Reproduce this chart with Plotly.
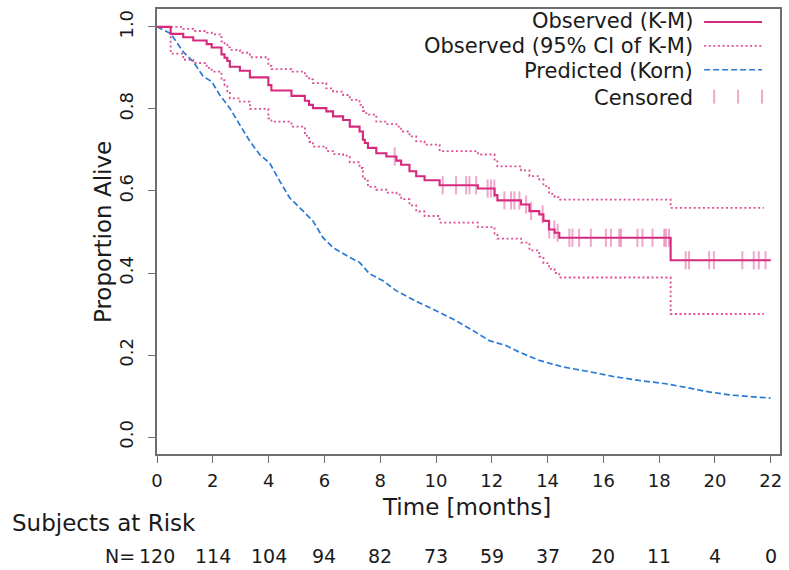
import plotly.graph_objects as go

# ---------------- data ----------------
km_time = [0, 0.49, 0.94, 1.30, 1.78, 1.96, 2.31, 2.42, 2.52, 2.61, 2.97, 3.33, 3.99, 4.10,
           4.82, 5.30, 5.45, 5.59, 6.07, 6.31, 6.67, 6.91, 7.26, 7.38, 7.45, 7.56, 7.86, 8.22,
           8.58, 8.75, 9.05, 9.29, 9.59, 10.13, 11.50, 12.10, 12.20, 13.05, 13.35, 13.70, 13.85,
           14.05, 14.25, 14.42, 18.41, 22.0]
km_surv = [1.000, 0.983, 0.975, 0.967, 0.958, 0.950, 0.933, 0.925, 0.917, 0.903, 0.893, 0.877,
           0.858, 0.845, 0.832, 0.820, 0.810, 0.802, 0.794, 0.782, 0.773, 0.757, 0.745, 0.725,
           0.717, 0.705, 0.692, 0.684, 0.674, 0.664, 0.648, 0.636, 0.626, 0.614, 0.606, 0.590,
           0.577, 0.567, 0.551, 0.543, 0.527, 0.506, 0.498, 0.486, 0.431, 0.431]

ci_time = [0, 0.49, 0.94, 1.30, 1.78, 1.96, 2.31, 2.42, 2.52, 2.61, 2.97, 3.33, 3.99, 4.10,
           4.82, 5.30, 5.45, 5.59, 6.07, 6.31, 6.67, 6.91, 7.26, 7.38, 7.45, 7.56, 7.86, 8.22,
           8.58, 8.75, 9.05, 9.29, 9.59, 10.13, 11.50, 12.10, 12.20, 13.05, 13.35, 13.70, 13.85,
           14.05, 14.25, 14.42, 18.41, 21.75]
ci_upper = [1.000, 1.000, 0.995, 0.990, 0.986, 0.982, 0.965, 0.957, 0.950, 0.944, 0.937, 0.926,
            0.905, 0.897, 0.891, 0.880, 0.872, 0.863, 0.850, 0.842, 0.834, 0.822, 0.810, 0.795,
            0.790, 0.786, 0.769, 0.763, 0.757, 0.745, 0.733, 0.721, 0.713, 0.697, 0.689, 0.672,
            0.660, 0.650, 0.636, 0.628, 0.612, 0.593, 0.585, 0.579, 0.559, 0.559]
ci_lower = [1.000, 0.935, 0.920, 0.912, 0.900, 0.891, 0.870, 0.858, 0.843, 0.826, 0.818, 0.800,
            0.777, 0.769, 0.757, 0.735, 0.720, 0.708, 0.697, 0.690, 0.686, 0.670, 0.656, 0.635,
            0.625, 0.610, 0.603, 0.596, 0.591, 0.580, 0.565, 0.550, 0.539, 0.523, 0.512, 0.496,
            0.484, 0.474, 0.455, 0.440, 0.424, 0.410, 0.400, 0.389, 0.300, 0.300]

pred_time = [0, 0.49, 0.94, 1.30, 1.66, 1.96, 2.25, 2.61, 2.97, 3.33, 3.69, 4.04, 4.40, 4.76,
             5.12, 5.59, 5.95, 6.31, 6.91, 7.26, 7.62, 8.10, 8.57, 9.23, 9.89, 10.60, 11.32,
             11.91, 12.51, 12.99, 13.70, 14.54, 15.37, 16.33, 17.28, 18.24, 18.95, 19.79, 20.62,
             21.34, 21.99]
pred_surv = [1.000, 0.984, 0.939, 0.915, 0.879, 0.867, 0.834, 0.802, 0.761, 0.721, 0.688, 0.668,
             0.624, 0.583, 0.559, 0.527, 0.486, 0.462, 0.438, 0.426, 0.398, 0.381, 0.357, 0.333,
             0.312, 0.288, 0.260, 0.235, 0.223, 0.207, 0.187, 0.171, 0.161, 0.148, 0.138, 0.130,
             0.121, 0.110, 0.102, 0.098, 0.095]

cens_time = [8.52, 10.24, 10.72, 11.08, 11.20, 11.44, 11.85, 11.97, 12.09, 12.45, 12.69, 12.81,
             12.99, 13.23, 13.41, 13.82, 14.06, 14.24, 14.36, 14.78, 14.89, 15.13, 15.55, 16.09,
             16.27, 16.57, 16.63, 17.22, 17.40, 17.76, 18.18, 18.24, 18.35, 18.95, 19.07, 19.79,
             19.96, 20.98, 21.39, 21.57, 21.81]
cens_surv = [0.684, 0.614, 0.614, 0.614, 0.614, 0.614, 0.606, 0.606, 0.606, 0.577, 0.577, 0.577,
             0.577, 0.567, 0.551, 0.543, 0.506, 0.506, 0.498, 0.486, 0.486, 0.486, 0.486, 0.486,
             0.486, 0.486, 0.486, 0.486, 0.486, 0.486, 0.486, 0.486, 0.486, 0.431, 0.431, 0.431,
             0.431, 0.431, 0.431, 0.431, 0.431]

x_ticks = [0, 2, 4, 6, 8, 10, 12, 14, 16, 18, 20, 22]
y_ticks = [0.0, 0.2, 0.4, 0.6, 0.8, 1.0]
y_ticktext = ["0.0", "0.2", "0.4", "0.6", "0.8", "1.0"]
risk_time = [0, 2, 4, 6, 8, 10, 12, 14, 16, 18, 20, 22]
risk_n = [120, 114, 104, 94, 82, 73, 59, 37, 20, 11, 4, 0]

legend_labels = ["Observed (K-M)", "Observed (95% CI of K-M)", "Predicted (Korn)", "Censored"]

# ---------------- styling ----------------
KM_COL = "#d6287d"
CI_COL = "#df4f97"
PRED_COL = "#2a7ad6"
CENS_COL = "rgba(220,60,140,0.45)"
AX_COL = "#6e6e6e"
FONT = "DejaVu Sans"
TXT = "#1a1a1a"

fig = go.Figure()
fig.add_trace(go.Scatter(x=pred_time, y=pred_surv, mode="lines",
                         line=dict(color=PRED_COL, width=1.7, dash="6px,3px")))
fig.add_trace(go.Scatter(x=ci_time, y=ci_upper, mode="lines", line_shape="hv",
                         line=dict(color=CI_COL, width=1.8, dash="2px,2.6px")))
fig.add_trace(go.Scatter(x=ci_time, y=ci_lower, mode="lines", line_shape="hv",
                         line=dict(color=CI_COL, width=1.8, dash="2px,2.6px")))
fig.add_trace(go.Scatter(x=km_time, y=km_surv, mode="lines", line_shape="hv",
                         line=dict(color=KM_COL, width=2.1)))
fig.add_trace(go.Scatter(x=cens_time, y=cens_surv, mode="markers",
                         marker=dict(symbol="line-ns", size=13,
                                     line=dict(width=2, color=CENS_COL))))

# plot area: x 157..781 px, y 7..454 px
L, R, T, B = 157, 781, 7, 454
W, H = R - L, B - T

def px(xp):
    return (xp - L) / W

def py(yp):
    return (B - yp) / H

annotations = []
annotations.append(dict(text="Proportion Alive", x=px(103), y=py(231), xref="paper", yref="paper",
                        textangle=-90, showarrow=False, xanchor="center", yanchor="middle",
                        font=dict(size=23, family=FONT, color=TXT)))
annotations.append(dict(text="Time [months]", x=px(467), y=py(507), xref="paper", yref="paper",
                        showarrow=False, xanchor="center", yanchor="middle",
                        font=dict(size=23, family=FONT, color=TXT)))
annotations.append(dict(text="Subjects at Risk", x=px(10), y=py(523), xref="paper", yref="paper",
                        showarrow=False, xanchor="left", yanchor="middle",
                        font=dict(size=23, family=FONT, color=TXT)))
annotations.append(dict(text="N=", x=px(137), y=py(556), xref="paper", yref="paper",
                        showarrow=False, xanchor="right", yanchor="middle",
                        font=dict(size=19, family=FONT, color=TXT)))
for t, n in zip(risk_time, risk_n):
    annotations.append(dict(text=str(n), x=t, y=py(556), xref="x", yref="paper",
                            showarrow=False, xanchor="center", yanchor="middle",
                            font=dict(size=19, family=FONT, color=TXT)))

leg_y = [19, 44, 69, 96]
for lab, yy in zip(legend_labels, leg_y):
    annotations.append(dict(text=lab, x=px(695), y=py(yy), xref="paper", yref="paper",
                            showarrow=False, xanchor="right", yanchor="middle", borderpad=0,
                            font=dict(size=21, family=FONT, color=TXT)))

shapes = [
    dict(type="line", xref="paper", yref="paper", x0=px(705), x1=px(763), y0=py(20), y1=py(20),
         line=dict(color=KM_COL, width=2)),
    dict(type="line", xref="paper", yref="paper", x0=px(705), x1=px(763), y0=py(44), y1=py(44),
         line=dict(color=CI_COL, width=1.8, dash="2px,2.6px")),
    dict(type="line", xref="paper", yref="paper", x0=px(705), x1=px(763), y0=py(68), y1=py(68),
         line=dict(color=PRED_COL, width=1.7, dash="6px,3px")),
]
for xx in [715, 739, 763]:
    shapes.append(dict(type="line", xref="paper", yref="paper", x0=px(xx), x1=px(xx),
                       y0=py(88), y1=py(102), line=dict(color=CENS_COL, width=2)))

fig.update_layout(
    width=789, height=570,
    margin=dict(l=L, r=789 - R, t=T, b=570 - B),
    plot_bgcolor="white", paper_bgcolor="white",
    showlegend=False,
    font=dict(family=FONT, color=TXT),
    annotations=annotations,
    shapes=shapes,
)
fig.update_xaxes(range=[0, 22.33], tickvals=x_ticks, ticks="outside", ticklen=7, tickwidth=1.3,
                 tickcolor=AX_COL, showline=True, linecolor=AX_COL, linewidth=1.5, mirror=True,
                 showgrid=False, zeroline=False, ticklabelstandoff=3,
                 tickfont=dict(size=18, family=FONT, color=TXT))
fig.update_yaxes(range=[-0.0413, 1.0437], tickvals=y_ticks, ticktext=y_ticktext, tickangle=-90,
                 ticks="outside", ticklen=7, tickwidth=1.3, tickcolor=AX_COL, showline=True,
                 linecolor=AX_COL, linewidth=1.5, mirror=True, showgrid=False, zeroline=False,
                 ticklabelstandoff=8, tickfont=dict(size=18, family=FONT, color=TXT))

fig.write_html("out.html")
